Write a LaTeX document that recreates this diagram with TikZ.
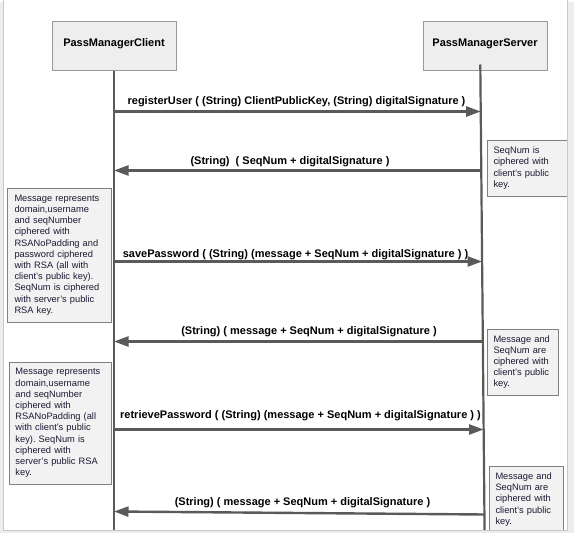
\documentclass[tikz,border=0pt]{standalone}
\usepackage{fontspec}
\setmainfont{Liberation Sans}
\usetikzlibrary{arrows.meta}
\definecolor{outsidegray}{HTML}{EDEDED}
\definecolor{edgegray}{HTML}{C8C8C8}
\definecolor{lifegray}{HTML}{5A5A5A}
\definecolor{boxborder}{HTML}{9A9A9A}
\definecolor{boxfill}{HTML}{EEEEEE}
\definecolor{noteborder}{HTML}{808080}
\definecolor{notefill}{HTML}{F2F2F2}
\definecolor{notetext}{HTML}{1A1A33}
\frenchspacing
\begin{document}
\begin{tikzpicture}[x=1pt,y=-1pt,
  actor/.style={draw=boxborder, fill=boxfill, line width=1pt, minimum width=124pt, minimum height=49pt,
    inner sep=0pt, font=\fontsize{11}{13}\selectfont\bfseries, text height=7.5pt, text depth=7pt},
  life/.style={draw=lifegray, line width=2.2pt},
  msg/.style={draw=lifegray, line width=2.4pt, -{Triangle[length=14.5pt,width=10pt]}},
  lbl/.style={font=\fontsize{11}{13}\selectfont\bfseries, inner sep=0pt, anchor=base},
  note/.style={draw=noteborder, fill=notefill, line width=1pt, anchor=north west, align=left,
    inner ysep=0pt, text=notetext, font=\fontsize{9.3}{11.2}\selectfont}
]
% page background
\fill[outsidegray] (0,0) rectangle (574,530);
\fill[white] (3,-2) rectangle (567.5,528);
\begin{scope}
\clip (3.5,-2) rectangle (567,527.5);
% actors
\node[actor] (client) at (114,43.5) {PassManagerClient};
\node[actor] (server) at (485,43.5) {PassManagerServer};
\coordinate (cBot) at (114,530);
\coordinate (sTop) at (480.3,62);
\coordinate (sBot) at (484.6,530);
\draw[life] (client.south) -- (cBot);
\draw[life] (sTop) -- (sBot);
% message endpoints
\coordinate (c1) at (114,109);   \coordinate (s1) at (480.7,109);
\coordinate (c2) at (114,168);   \coordinate (s2) at (481.2,168);
\coordinate (c3) at (114,259);   \coordinate (s3) at (482.1,259);
\coordinate (c4) at (114,339);   \coordinate (s4) at (482.8,339);
\coordinate (c5) at (114,427);   \coordinate (s5) at (483.6,427);
\coordinate (c6) at (114,509);   \coordinate (s6) at (484.3,512);
\draw[msg] (c1) -- (s1);
\draw[msg] (s2) -- (c2);
\draw[msg] (c3) -- (s3);
\draw[msg] (s4) -- (c4);
\draw[msg] (c5) -- (s5);
\draw[msg] (s6) -- (c6);
% labels
\node[lbl] (l1) at (296.5,102.5) {registerUser ( (String) ClientPublicKey, (String) digitalSignature )};
\node[lbl] (l2) at (290,162) {(String)\ \ ( SeqNum + digitalSignature )};
\node[lbl] (l3) at (295.5,255) {savePassword ( (String) (message + SeqNum + digitalSignature ) )};
\node[lbl] (l4) at (309,332) {(String) ( message + SeqNum + digitalSignature )};
\node[lbl] (l5) at (300.5,416) {retrievePassword ( (String) (message + SeqNum + digitalSignature ) )};
\node[lbl] (l6) at (302.5,503) {(String) ( message + SeqNum + digitalSignature )};
% notes
\node[note, inner xsep=6pt, minimum width=80pt, minimum height=56pt, text width=68pt] (n1) at (487,137)
  {\mbox{SeqNum is}\\\mbox{ciphered with}\\\mbox{client's public}\\\mbox{key.}};
\node[note, inner xsep=7pt, minimum width=104pt, minimum height=134pt, text width=90pt] (n2) at (7,185)
  {\mbox{Message represents}\\\mbox{domain,username}\\\mbox{and seqNumber}\\\mbox{ciphered with}\\\mbox{RSANoPadding and}\\\mbox{password ciphered}\\\mbox{with RSA (all with}\\\mbox{client's public key).}\\\mbox{SeqNum is ciphered}\\\mbox{with server's public}\\\mbox{RSA key.}};
\node[note, inner xsep=6pt, minimum width=71pt, minimum height=66pt, text width=59pt] (n3) at (487,326)
  {\mbox{Message and}\\\mbox{SeqNum are}\\\mbox{ciphered with}\\\mbox{client's public}\\\mbox{key.}};
\node[note, inner xsep=6pt, minimum width=102pt, minimum height=122pt, text width=90pt] (n4) at (9,359)
  {\mbox{Message represents}\\\mbox{domain,username}\\\mbox{and seqNumber}\\\mbox{ciphered with}\\\mbox{RSANoPadding (all}\\\mbox{with client's public}\\\mbox{key). SeqNum is}\\\mbox{ciphered with}\\\mbox{server's public RSA}\\\mbox{key.}};
\node[note, inner xsep=6pt, minimum width=74pt, minimum height=67pt, text width=62pt] (n5) at (489,463)
  {\mbox{Message and}\\\mbox{SeqNum are}\\\mbox{ciphered with}\\\mbox{client's public}\\\mbox{key.}};
\end{scope}
% page edges
\draw[edgegray, line width=1pt] (3,-2) -- (3,528) -- (567.5,528) -- (567.5,-2);
\useasboundingbox (0,0) rectangle (574,530);
\end{tikzpicture}
\end{document}
